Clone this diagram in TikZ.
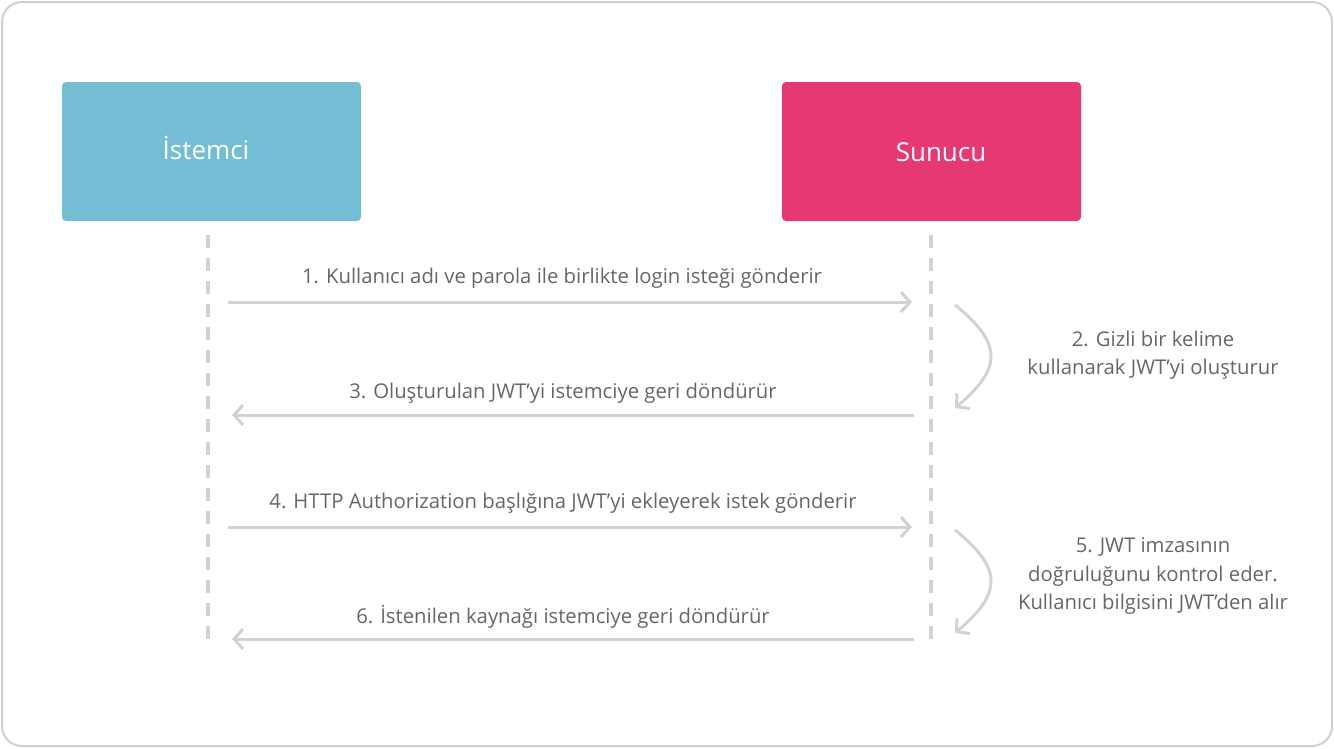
\documentclass[tikz,border=0pt]{standalone}
\usepackage{fontspec}
\setmainfont{Open Sans}
\usetikzlibrary{arrows.meta}
\definecolor{cyanbox}{HTML}{73BED4}
\definecolor{pinkbox}{HTML}{E63875}
\definecolor{linegray}{HTML}{D2D2D2}
\definecolor{framegray}{HTML}{D0D0D0}
\definecolor{textgray}{HTML}{666666}
\tikzset{
  actor/.style={rounded corners=4pt, minimum width=299pt, minimum height=139pt, inner sep=0pt, text=white, font=\fontsize{26}{30}\selectfont},
  lifeline/.style={draw=linegray, line width=4pt, dash pattern=on 13pt off 10pt},
  msg/.style={draw=linegray, line width=3pt, -{Straight Barb[length=9pt,width=20pt,line width=3pt]}},
  lbl/.style={text=textgray, font=\fontsize{20.3}{28.5}\selectfont, inner sep=0pt, align=center},
}
\begin{document}
\begin{tikzpicture}[x=1pt,y=-1pt]
\useasboundingbox (0,0) rectangle (1334,748);
\draw[framegray, line width=2pt, rounded corners=20pt] (2,2) rectangle (1332,746);
\node[actor, fill=cyanbox] (client) at (211.5,151.5) {};
\node[actor, fill=pinkbox] (server) at (931.5,151.5) {};
\node[text=white, font=\fontsize{26}{30}\selectfont, inner sep=0pt] (clientlbl) at (206,148) {İstemci};
\node[text=white, font=\fontsize{26}{30}\selectfont, inner sep=0pt] (serverlbl) at (941,152) {Sunucu};
\coordinate (ct) at (208,235); \coordinate (cb) at (208,648);
\coordinate (st) at (931,235); \coordinate (sb) at (931,648);
\draw[lifeline] (ct) -- (cb);
\draw[lifeline] (st) -- (sb);
% messages
\coordinate (a1s) at (228,302); \coordinate (a1e) at (912,302);
\coordinate (a3s) at (914,415); \coordinate (a3e) at (232,415);
\coordinate (a4s) at (228,527); \coordinate (a4e) at (912,527);
\coordinate (a6s) at (914,639); \coordinate (a6e) at (232,639);
\draw[msg] (a1s) -- (a1e);
\draw[msg] (a3s) -- (a3e);
\draw[msg] (a4s) -- (a4e);
\draw[msg] (a6s) -- (a6e);
\node[lbl] (l1) at (562,278) {1. Kullanıcı adı ve parola ile birlikte login isteği gönderir};
\node[lbl] (l3) at (563,393) {3. Oluşturulan JWT’yi istemciye geri döndürür};
\node[lbl] (l4) at (563,503) {4. HTTP Authorization başlığına JWT’yi ekleyerek istek gönderir};
\node[lbl] (l6) at (563,617) {6. İstenilen kaynağı istemciye geri döndürür};
% self loops
\coordinate (c1s) at (955,305); \coordinate (c1e) at (955,408);
\coordinate (c2s) at (955,530); \coordinate (c2e) at (955,633);
\draw[msg] (c1s) .. controls (1005,345) and (1000,370) .. (c1e);
\draw[msg] (c2s) .. controls (1005,570) and (1000,595) .. (c2e);
\node[lbl] (l2) at (1153,355) {2. Gizli bir kelime\\kullanarak JWT’yi oluşturur};
\node[lbl] (l5) at (1153,576) {5. JWT imzasının\\doğruluğunu kontrol eder.\\Kullanıcı bilgisini JWT’den alır};
\end{tikzpicture}
\end{document}
